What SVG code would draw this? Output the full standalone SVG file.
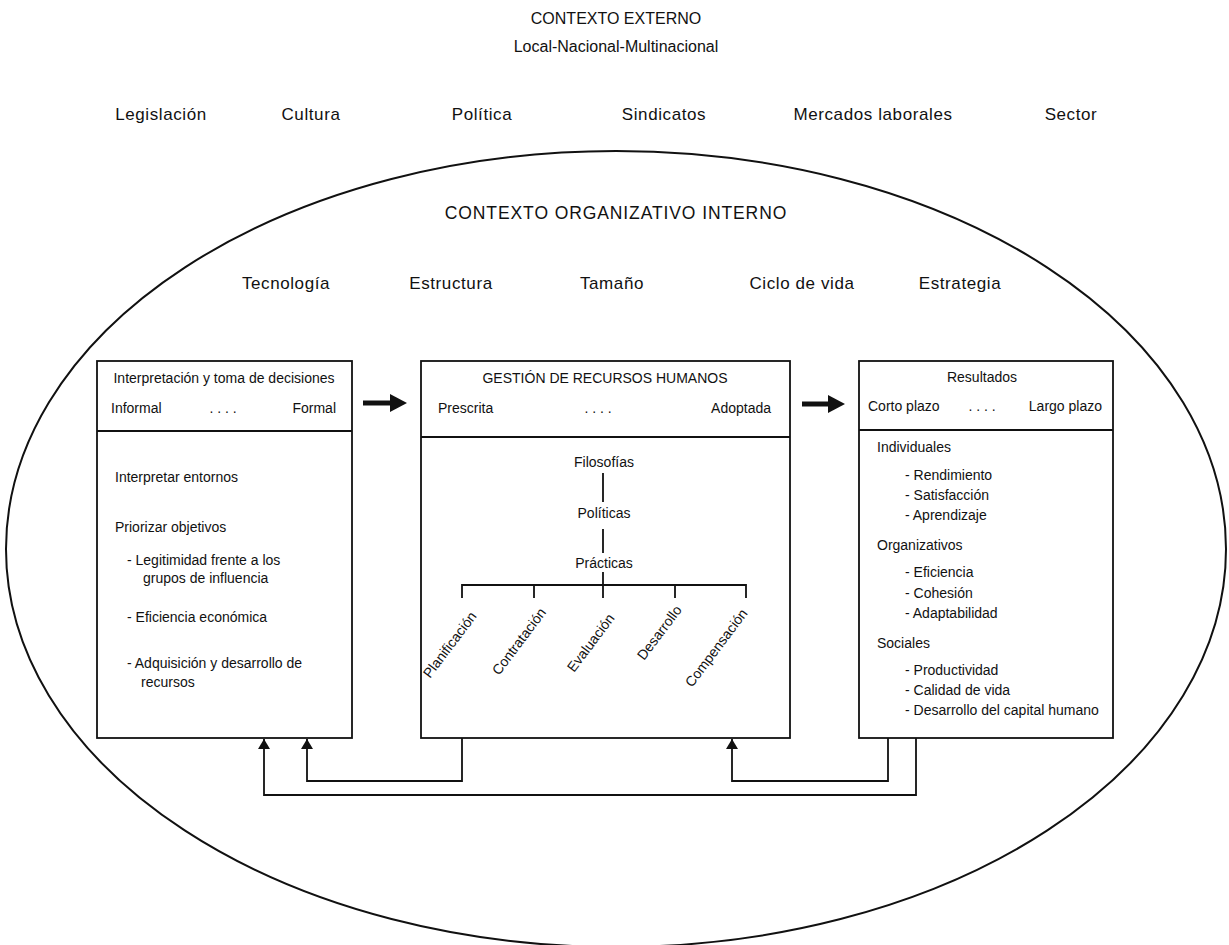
<svg xmlns="http://www.w3.org/2000/svg" width="1229" height="945" viewBox="0 0 1229 945">
<style>
text{font-family:"Liberation Sans",Arial,Helvetica,sans-serif;fill:#111}
.h{font-size:17px;letter-spacing:0.6px}
.t{font-size:16px}
.o{font-size:17.5px;letter-spacing:0.9px}
.b{font-size:14px}
.box{fill:none;stroke:#111;stroke-width:1.8}
.ln{fill:none;stroke:#111;stroke-width:1.8}
.c{text-anchor:middle}
.e{text-anchor:end}
</style>
<defs>
<marker id="ah" viewBox="0 0 10 12" refX="10" refY="6" markerWidth="10" markerHeight="12" markerUnits="userSpaceOnUse" orient="auto">
<path d="M0,0 L10,6 L0,12 Z" fill="#111"/>
</marker>
</defs>
<rect width="1229" height="945" fill="#fff"/>

<g id="external">
<text class="t c" x="616" y="24">CONTEXTO EXTERNO</text>
<text class="t c" x="616" y="52">Local-Nacional-Multinacional</text>
<text class="h c" x="161" y="120">Legislación</text>
<text class="h c" x="311" y="120">Cultura</text>
<text class="h c" x="482" y="120">Política</text>
<text class="h c" x="664" y="120">Sindicatos</text>
<text class="h c" x="873" y="120">Mercados laborales</text>
<text class="h c" x="1071" y="120">Sector</text>
</g>

<g id="internal">
<ellipse cx="616" cy="549" rx="610" ry="398" fill="none" stroke="#111" stroke-width="2"/>
<text class="o c" x="616" y="219">CONTEXTO ORGANIZATIVO INTERNO</text>
<text class="h c" x="286" y="289">Tecnología</text>
<text class="h c" x="451" y="289">Estructura</text>
<text class="h c" x="612" y="289">Tamaño</text>
<text class="h c" x="802" y="289">Ciclo de vida</text>
<text class="h c" x="960" y="289">Estrategia</text>
</g>

<g id="node-interpretacion">
<rect class="box" x="97" y="361" width="255" height="377"/>
<line class="ln" x1="97" y1="431" x2="352" y2="431"/>
<text class="b c" x="224" y="383">Interpretación y toma de decisiones</text>
<text class="b" x="111" y="413">Informal</text>
<text class="b c" x="223" y="413">. . . .</text>
<text class="b e" x="336" y="413">Formal</text>
<text class="b" x="115" y="482">Interpretar entornos</text>
<text class="b" x="115" y="532">Priorizar objetivos</text>
<text class="b" x="127" y="565">- Legitimidad frente a los</text>
<text class="b" x="143" y="583">grupos de influencia</text>
<text class="b" x="127" y="622">- Eficiencia económica</text>
<text class="b" x="127" y="668">- Adquisición y desarrollo de</text>
<text class="b" x="141" y="687">recursos</text>
</g>

<g id="node-grh">
<rect class="box" x="421" y="361" width="369" height="377"/>
<line class="ln" x1="421" y1="437" x2="790" y2="437"/>
<text class="b c" x="605" y="383">GESTIÓN DE RECURSOS HUMANOS</text>
<text class="b" x="438" y="413">Prescrita</text>
<text class="b c" x="598" y="413">. . . .</text>
<text class="b e" x="771" y="413">Adoptada</text>
<text class="b c" x="604" y="467">Filosofías</text>
<text class="b c" x="604" y="518">Políticas</text>
<text class="b c" x="604" y="568">Prácticas</text>
<path class="ln" d="M603,473 V502 M603,529 V553 M603,572 V598 M462,598 V585 H746 V598 M534,585 V598 M675,585 V598"/>
<text class="b" transform="translate(430,679) rotate(-53)">Planificación</text>
<text class="b" transform="translate(499,676) rotate(-53)">Contratación</text>
<text class="b" transform="translate(574,673) rotate(-53)">Evaluación</text>
<text class="b" transform="translate(644,661) rotate(-53)">Desarrollo</text>
<text class="b" transform="translate(692,688) rotate(-53)">Compensación</text>
</g>

<g id="node-resultados">
<rect class="box" x="859" y="361" width="254" height="377"/>
<line class="ln" x1="859" y1="430" x2="1113" y2="430"/>
<text class="b c" x="982" y="382">Resultados</text>
<text class="b" x="868" y="411">Corto plazo</text>
<text class="b c" x="982" y="411">. . . .</text>
<text class="b e" x="1102" y="411">Largo plazo</text>
<text class="b" x="877" y="452">Individuales</text>
<text class="b" x="905" y="480">- Rendimiento</text>
<text class="b" x="905" y="500">- Satisfacción</text>
<text class="b" x="905" y="520">- Aprendizaje</text>
<text class="b" x="877" y="550">Organizativos</text>
<text class="b" x="905" y="577">- Eficiencia</text>
<text class="b" x="905" y="598">- Cohesión</text>
<text class="b" x="905" y="618">- Adaptabilidad</text>
<text class="b" x="877" y="648">Sociales</text>
<text class="b" x="905" y="675">- Productividad</text>
<text class="b" x="905" y="695">- Calidad de vida</text>
<text class="b" x="905" y="715">- Desarrollo del capital humano</text>
</g>

<g id="connectors">
<line x1="363" y1="403" x2="392" y2="403" stroke="#111" stroke-width="5"/>
<path d="M390,394 L407,403 L390,412 Z" fill="#111"/>
<line x1="802" y1="404" x2="830" y2="404" stroke="#111" stroke-width="5"/>
<path d="M828,395 L845,404 L828,413 Z" fill="#111"/>
<path class="ln" d="M462,738 V781 H307 V739" marker-end="url(#ah)"/>
<path class="ln" d="M888,738 V781 H732 V739" marker-end="url(#ah)"/>
<path class="ln" d="M916,738 V795 H264 V739" marker-end="url(#ah)"/>
</g>
</svg>
